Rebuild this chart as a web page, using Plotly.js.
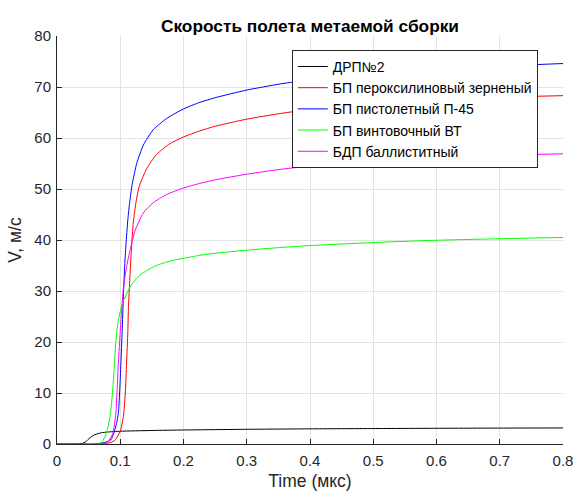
<!DOCTYPE html>
<html>
<head>
<meta charset="utf-8">
<script src="https://cdn.plot.ly/plotly-3.0.1.min.js"></script>
<style>html,body{margin:0;padding:0;background:#fff;}#chart{width:573px;height:491px;}</style>
</head>
<body>
<div id="chart"></div>
<script>
// Series names
const seriesNames = ["ДРП№2", "БП пероксилиновый зерненый", "БП пистолетный П-45", "БП винтовочный ВТ", "БДП баллиститный"];

// Time (мкс) and velocity (м/с) for each series
const tBlack = [0, 0.035, 0.04, 0.045, 0.05, 0.055, 0.06, 0.065, 0.07, 0.08, 0.1, 0.15, 0.2, 0.3, 0.4, 0.5, 0.6, 0.7, 0.8];
const vBlack = [0, 0, 0.1, 0.4, 1.0, 1.5, 1.85, 2.05, 2.2, 2.35, 2.5, 2.65, 2.75, 2.88, 2.97, 3.03, 3.08, 3.12, 3.15];

const tRed = [0, 0.07, 0.085, 0.092, 0.1, 0.105, 0.108, 0.11, 0.112, 0.113, 0.115, 0.1175, 0.1207, 0.125, 0.13, 0.1418, 0.1576, 0.1787, 0.2, 0.226, 0.25, 0.3, 0.353, 0.4, 0.5, 0.6, 0.7, 0.8];
const vRed = [0, 0, 0.3, 0.8, 2.5, 5.4, 10, 15.9, 22, 27, 32, 38, 43.5, 47.5, 50.5, 54, 56.8, 58.9, 60.2, 61.4, 62.3, 63.7, 64.8, 65.6, 66.7, 67.5, 68.0, 68.3];

const tBlue = [0, 0.06, 0.075, 0.085, 0.09, 0.094, 0.097, 0.099, 0.101, 0.103, 0.105, 0.107, 0.109, 0.112, 0.115, 0.119, 0.126, 0.1365, 0.152, 0.173, 0.2, 0.226, 0.25, 0.3, 0.353, 0.4, 0.5, 0.6, 0.7, 0.8];
const vBlue = [0, 0, 0.3, 0.8, 2.2, 4, 6, 10, 15.9, 22, 29, 35, 39, 44, 47.5, 51, 55, 58.6, 61.6, 63.8, 65.7, 67.0, 67.9, 69.4, 70.6, 71.4, 72.6, 73.5, 74.1, 74.6];

const tGreen = [0, 0.065, 0.07, 0.075, 0.08, 0.084, 0.087, 0.09, 0.093, 0.096, 0.1, 0.105, 0.113, 0.12, 0.132, 0.155, 0.18, 0.2, 0.226, 0.25, 0.3, 0.35, 0.4, 0.5, 0.6, 0.7, 0.8];
const vGreen = [0, 0, 0.3, 1.2, 3, 5.5, 9, 14, 20, 23.5, 26.0, 28.0, 30.2, 31.6, 33.2, 34.9, 35.9, 36.4, 37.0, 37.4, 38.0, 38.5, 38.9, 39.5, 39.95, 40.25, 40.5];

const tMagenta = [0, 0.07, 0.08, 0.088, 0.093, 0.097, 0.1, 0.102, 0.105, 0.109, 0.1128, 0.1233, 0.1365, 0.152, 0.173, 0.2, 0.226, 0.25, 0.3, 0.35, 0.4, 0.5, 0.6, 0.7, 0.8];
const vMagenta = [0, 0, 0.4, 2, 6, 15.9, 22, 26, 30.5, 34, 36.5, 41.8, 45.3, 47.3, 48.9, 50.2, 51.1, 51.8, 52.9, 53.8, 54.5, 55.5, 56.2, 56.6, 56.9];

const xTicks = [0, 0.1, 0.2, 0.3, 0.4, 0.5, 0.6, 0.7, 0.8];
const xTickText = ["0", "0.1", "0.2", "0.3", "0.4", "0.5", "0.6", "0.7", "0.8"];
const yTicks = [0, 10, 20, 30, 40, 50, 60, 70, 80];

const colors = ["#000000", "#ff0000", "#0000ff", "#00ff00", "#ff00ff"];
const xs = [tBlack, tRed, tBlue, tGreen, tMagenta];
const ys = [vBlack, vRed, vBlue, vGreen, vMagenta];

const traces = seriesNames.map((n, i) => ({
  x: xs[i], y: ys[i], name: n, type: "scatter", mode: "lines",
  line: {color: colors[i], width: 1, shape: "spline", smoothing: 0.6}
}));

const font = "'Liberation Sans', Arial, Helvetica, sans-serif";
const layout = {
  width: 573, height: 491,
  margin: {l: 57, r: 10, t: 36, b: 47},
  paper_bgcolor: "#fff", plot_bgcolor: "#fff",
  font: {family: font, size: 15, color: "#262626"},
  title: {text: "<b>Скорость полета метаемой сборки</b>", font: {family: font, size: 17.3, color: "#000"}, x: 0.541, xanchor: "center", y: 0.947, yanchor: "middle"},
  showlegend: true,
  legend: {x: 0.464, y: 0.966, xanchor: "left", yanchor: "top", bgcolor: "#fff", bordercolor: "#262626", borderwidth: 1, font: {family: font, size: 14, color: "#000"}, tracegroupgap: 0},
  xaxis: {
    range: [0, 0.8], tickvals: xTicks, ticktext: xTickText,
    showgrid: true, gridcolor: "#e3e3e3", gridwidth: 1,
    showline: true, linecolor: "#262626", linewidth: 1,
    ticks: "inside", ticklen: 5, tickcolor: "#262626", zeroline: false,
    ticklabelstandoff: 3, ticklabeloverflow: "allow",
    tickfont: {family: font, size: 15, color: "#262626"},
    title: {text: "Time (мкс)", font: {family: font, size: 17.5, color: "#262626"}, standoff: 10}
  },
  yaxis: {
    range: [0, 80], tickvals: yTicks,
    showgrid: true, gridcolor: "#e3e3e3", gridwidth: 1,
    showline: true, linecolor: "#262626", linewidth: 1,
    ticks: "inside", ticklen: 5, tickcolor: "#262626", zeroline: false,
    ticklabelstandoff: 2, ticklabeloverflow: "allow",
    tickfont: {family: font, size: 15, color: "#262626"},
    title: {text: "V, м/с", font: {family: font, size: 17.5, color: "#262626"}, standoff: 8}
  }
};
Plotly.newPlot("chart", traces, layout, {displayModeBar: false, staticPlot: true});
</script>
</body>
</html>
